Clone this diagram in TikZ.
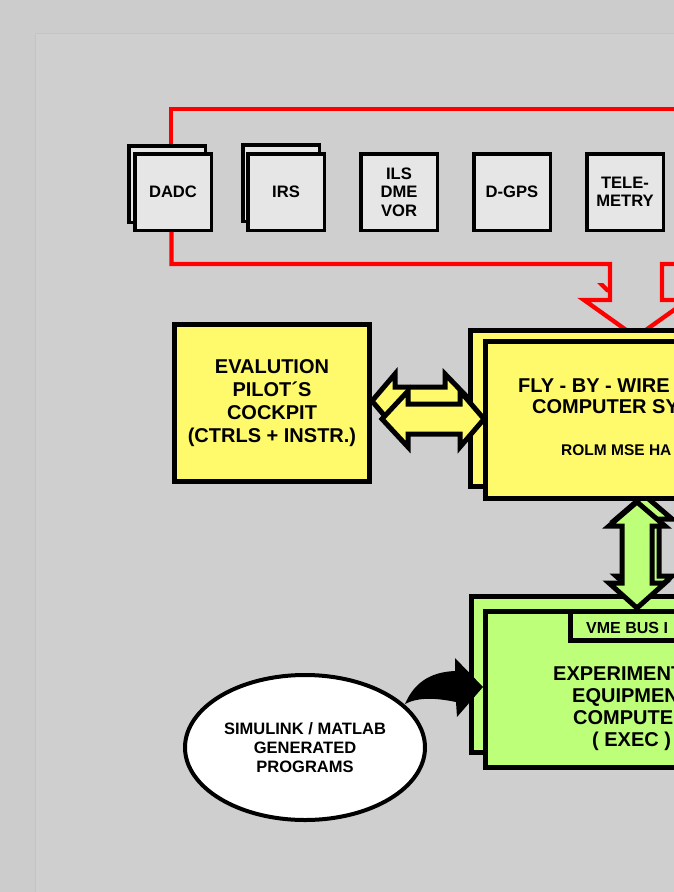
\documentclass[tikz,border=0pt]{standalone}
\usepackage{fontspec}
\setmainfont{Liberation Sans}
\usetikzlibrary{shapes.geometric}
\definecolor{bgout}{RGB}{204,204,204}
\definecolor{bgin}{RGB}{207,207,207}
\definecolor{panelline}{RGB}{196,196,196}
\definecolor{boxgray}{RGB}{230,230,230}
\definecolor{fbwyellow}{RGB}{255,250,107}
\definecolor{expgreen}{RGB}{190,255,122}
\begin{document}
\begin{tikzpicture}[x=1pt,y=-1pt,
  unit/.style={rectangle, draw=black, line width=3.5pt, fill=boxgray, inner sep=0pt,
    minimum width=76.5pt, minimum height=76.5pt, align=center,
    font=\bfseries\fontsize{16.6}{18.5}\selectfont},
  ybox/.style={rectangle, draw=black, line width=5pt, fill=fbwyellow, inner sep=0pt},
  gbox/.style={rectangle, draw=black, line width=5pt, fill=expgreen, inner sep=0pt},
  bus/.style={draw=red, line width=4.3pt, line join=miter, miter limit=10},
  yarrow/.style={draw=black, line width=5pt, line join=miter, miter limit=10, fill=fbwyellow},
  garrow/.style={draw=black, line width=5pt, line join=miter, miter limit=10, fill=expgreen},
  ttwenty/.style={inner sep=0pt, anchor=base west, font=\bfseries\fontsize{20}{23}\selectfont},
  tsixteen/.style={inner sep=0pt, anchor=base west, font=\bfseries\fontsize{16}{18}\selectfont},
  tfifteen/.style={inner sep=0pt, anchor=base west, font=\bfseries\fontsize{15.5}{18}\selectfont}
]
\useasboundingbox (0,0) rectangle (674,892);
\clip (0,0) rectangle (674,892);
% background
\fill[bgout] (0,0) rectangle (674,892);
\draw[panelline, fill=bgin, line width=1.2pt] (35.5,33.5) rectangle (740,960);

% coordinates of the bus
\coordinate (busTopR) at (740,109);
\coordinate (busBotR) at (740,264);
\coordinate (shaftL) at (610,264);
\coordinate (shaftR) at (662,264);
\coordinate (tipR) at (636,337);

% unit nodes (back copies first)
\node[unit] (dadcB) at (167,184) {};
\node[unit] (irsB) at (281,183) {};

% red bus
\draw[bus] ([xshift=4pt]dadcB.north) |- (busTopR);
\draw[bus] ([xshift=-1.5pt]173,232) |- (shaftL) -- (610,300) -- (584,300) -- (tipR)
   -- (688,300) -- (662,300) -- (shaftR) -- (busBotR);
\fill[red] (597,283) -- (603,283) -- (610,290) -- (610,293) -- (606,292) -- cycle;

% back copies of the block arrows
\draw[yarrow] (372,401) -- (395,374) -- (395,387) -- (445,387) -- (445,374) -- (471,401)
   -- (445,428) -- (445,415) -- (395,415) -- (395,428) -- cycle;
\draw[garrow] (644,495) -- (672,519) -- (659,519) -- (659,576) -- (672,576) -- (644,601)
   -- (616,576) -- (629,576) -- (629,519) -- (616,519) -- cycle;

% unit boxes (front)
\node[unit] (dadc) at (173,192) {DADC};
\node[unit] (irs) at (286,192) {IRS};
\node[unit] (ils) at (399,192) {ILS\\DME\\VOR};
\node[unit] (dgps) at (512,192) {D-GPS};
\node[unit] (tele) at (625,192) {TELE-\\METRY};

% cockpit
\node[ybox, minimum width=195pt, minimum height=157pt, align=center,
  font=\bfseries\fontsize{20}{23}\selectfont] (eval) at (272,403)
  {EVALUTION\\PILOT´S\\COCKPIT\\(CTRLS + INSTR.)};

% fly-by-wire computer
\node[ybox, minimum width=307pt, minimum height=156pt] (fbwB) at (624,408.5) {};
\node[ybox, minimum width=302pt, minimum height=157pt] (fbw) at (636.5,420) {};

% experimental computer
\node[gbox, minimum width=306pt, minimum height=156pt] (expB) at (624.5,674.5) {};
\node[gbox, minimum width=302pt, minimum height=156pt] (exp) at (636.5,689.5) {};
\node[gbox, minimum width=217pt, minimum height=29pt] (vmebox) at (679,626) {};

% simulink ellipse
\node[ellipse, draw=black, line width=4pt, fill=white, minimum width=240pt,
  minimum height=145pt, inner sep=0pt, align=center,
  font=\bfseries\fontsize{16.5}{19}\selectfont] (sim) at (305,747.5)
  {SIMULINK / MATLAB\\GENERATED\\PROGRAMS};

% front block arrows
\draw[yarrow] (382,419) -- (408,391) -- (408,404) -- (460,404) -- (460,391) -- (484,419)
   -- (460,447) -- (460,434) -- (408,434) -- (408,447) -- cycle;
\draw[garrow] (637,502) -- (665,526) -- (652,526) -- (652,583) -- (665,583) -- (637,608)
   -- (609,583) -- (622,583) -- (622,526) -- (609,526) -- cycle;

% curved black arrow from ellipse to experimental computer
\fill[black] (405,704) .. controls (414,683) and (430,672) .. (455,671) -- (455,658)
   -- (483,687) -- (457,717) -- (456,702) .. controls (432,697) and (416,698) .. (405,704) -- cycle;

% texts in the cut-off boxes
\node[ttwenty] (fbwa) at (518,392.7) {FLY - BY - WIRE};
\node[ttwenty] (fbwb) at (532,413.7) {COMPUTER SY};
\node[tfifteen] (fbwc) at (561,455.5) {ROLM MSE HA};
\node[tsixteen] (vme) at (586,633.7) {VME BUS I};
\node[ttwenty] (expa) at (553,680.2) {EXPERIMENT};
\node[ttwenty] (expb) at (572,702.2) {EQUIPMEN};
\node[ttwenty] (expc) at (573,724.2) {COMPUTE};
\node[ttwenty] (expd) at (592,746.2) {( EXEC )};
\end{tikzpicture}
\end{document}
